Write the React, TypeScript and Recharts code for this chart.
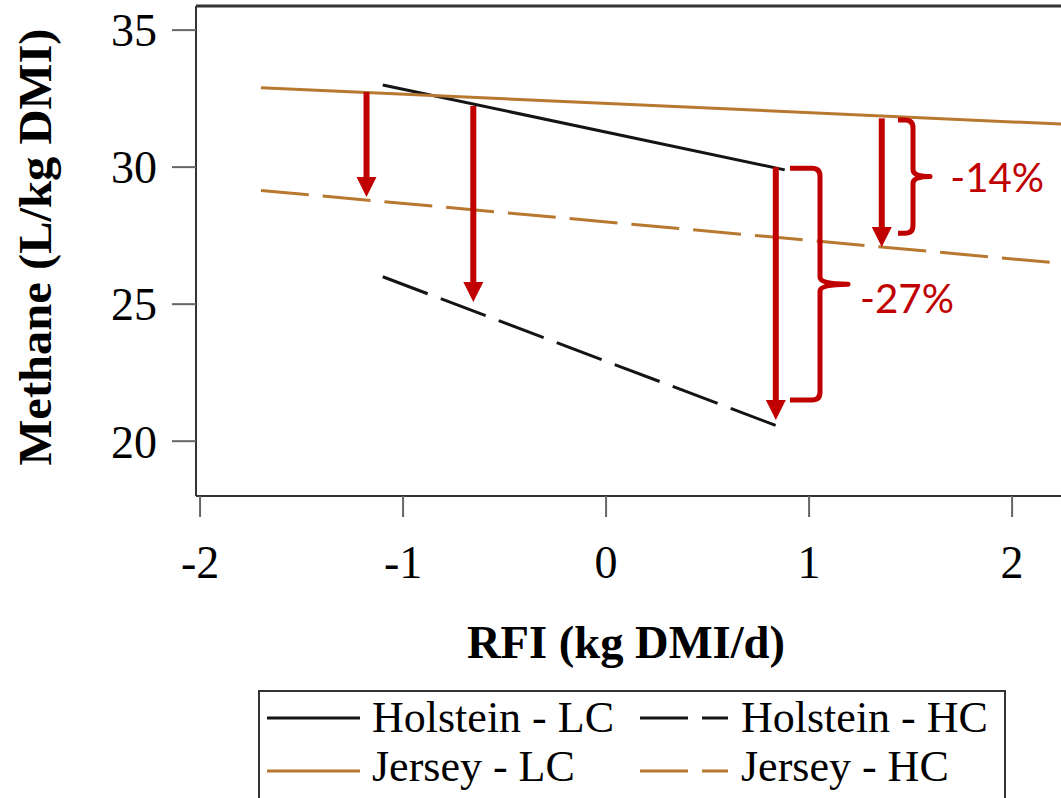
import React from 'react';
import { LineChart, Line, XAxis, YAxis, Legend, ReferenceLine, ReferenceDot } from 'recharts';

// ---- data ----
const xTicks = [-2, -1, 0, 1, 2];
const yTicks = [20, 25, 30, 35];
const seriesNames = ['Holstein - LC', 'Holstein - HC', 'Jersey - LC', 'Jersey - HC'];

const holsteinX = [-1.1, 0.88];
const holsteinLC = [33.0, 29.9];
const holsteinHC = [26.0, 20.45];
const jerseyX = [-1.7, 2.3];
const jerseyLC = [32.9, 31.55];
const jerseyHC = [29.15, 26.45];

// red annotation arrows (x position, from value, to value)
const arrowX = [-1.18, -0.654, 0.836, 1.358];
const arrowFrom = [32.74, 32.23, 30.0, 31.78];
const arrowTo = [28.91, 25.08, 20.77, 27.09];

// braces with percentage labels
const braceX = [1.438, 0.906];
const braceTop = [31.72, 29.96];
const braceBottom = [27.59, 21.5];
const braceLabels = ['-14%', '-27%'];
const labelX = [1.695, 1.251];
const labelY = [29.62, 25.22];

const xDomain = [-2.02, 2.3];
const yDomain = [18, 35.88];

// ---- styles ----
const BLACK = '#141414';
const BROWN = '#B8782F';
const RED = '#C00000';
const AXIS = '#333333';
const SERIF = '"Liberation Serif", "Times New Roman", serif';
const BRACE_W = [15, 30];
const BRACE_C = [17, 28];
const LABEL_LEN = [94, 94];

const toPts = (xs: number[], ys: number[]) => xs.map((x, i) => ({ x, y: ys[i] }));
const hLC = toPts(holsteinX, holsteinLC);
const hHC = toPts(holsteinX, holsteinHC);
const jLC = toPts(jerseyX, jerseyLC);
const jHC = toPts(jerseyX, jerseyHC);

const seriesStyles = [
  { color: BLACK, dash: undefined as string | undefined },
  { color: BLACK, dash: '48 14' },
  { color: BROWN, dash: undefined as string | undefined },
  { color: BROWN, dash: '48 14' },
];

const ArrowShape = (props: any) => {
  const { x1, y1, x2, y2 } = props;
  const head = 20;
  const hw = 10;
  return (
    <g>
      <line x1={x1} y1={y1} x2={x2} y2={y2 - head + 2} stroke={RED} strokeWidth={6} />
      <polygon points={`${x2 - hw},${y2 - head} ${x2 + hw},${y2 - head} ${x2},${y2}`} fill={RED} />
    </g>
  );
};

const makeBrace = (i: number) => (props: any) => {
  const { x1, y1, y2 } = props;
  const w = BRACE_W[i];
  const c = BRACE_C[i];
  const r = 8;
  const ym = (y1 + y2) / 2;
  const xv = x1 + w;
  const d = `M ${x1} ${y1} L ${xv - r} ${y1} Q ${xv} ${y1} ${xv} ${y1 + r} L ${xv} ${ym - 7} Q ${xv} ${ym} ${xv + c} ${ym} Q ${xv} ${ym} ${xv} ${ym + 7} L ${xv} ${y2 - r} Q ${xv} ${y2} ${xv - r} ${y2} L ${x1} ${y2}`;
  return <path d={d} fill="none" stroke={RED} strokeWidth={5} strokeLinejoin="round" />;
};

const makeLabel = (i: number) => (props: any) => {
  const { cx, cy } = props;
  return (
    <text x={cx} y={cy} dy="0.36em" fill={RED} fontSize={40} fontFamily="Lato, 'Noto Sans', sans-serif"
      textLength={LABEL_LEN[i]} lengthAdjust="spacingAndGlyphs">
      {braceLabels[i]}
    </text>
  );
};

const XLabel = (props: any) => {
  const vb = props.viewBox || { x: 196, y: 496 };
  return (
    <text x={vb.x + 430} y={vb.y + 162} textAnchor="middle" fontFamily={SERIF} fontWeight="bold" fontSize={46}
      fill="#000" textLength={318} lengthAdjust="spacingAndGlyphs">
      RFI (kg DMI/d)
    </text>
  );
};

const YLabel = (props: any) => {
  const vb = props.viewBox || { x: 0, y: 6, height: 490 };
  const cx = vb.x + 51;
  const cy = vb.y + vb.height / 2 - 4;
  return (
    <text x={cx} y={cy} transform={`rotate(-90, ${cx}, ${cy})`} textAnchor="middle" fontFamily={SERIF}
      fontWeight="bold" fontSize={47} fill="#000" textLength={437} lengthAdjust="spacingAndGlyphs">
      Methane (L/kg DMI)
    </text>
  );
};

const LegendBox = () => {
  const cols = [
    { lx1: 9, lx2: 102, tx: 114 },
    { lx1: 382, lx2: 470, tx: 483 },
  ];
  const rows = [
    { ly: 28, ty: 42 },
    { ly: 81, ty: 91 },
  ];
  const items = [0, 1, 2, 3].map((i) => ({ i, c: cols[i % 2], r: rows[Math.floor(i / 2)] }));
  return (
    <svg width={760} height={112} style={{ display: 'block', overflow: 'visible' }}>
      <rect x={1} y={1} width={746} height={150} fill="#fff" stroke={AXIS} strokeWidth={2} />
      {items.map(({ i, c, r }) => (
        <g key={i}>
          <line x1={c.lx1} y1={r.ly} x2={c.lx2} y2={r.ly} stroke={seriesStyles[i].color} strokeWidth={3}
            strokeDasharray={seriesStyles[i].dash} />
          <text x={c.tx} y={r.ty} fontFamily={SERIF} fontSize={44} fill="#000">{seriesNames[i]}</text>
        </g>
      ))}
    </svg>
  );
};

export default function App() {
  const seriesData = [hLC, hHC, jLC, jHC];
  return (
    <div style={{ position: 'absolute', left: 0, top: 0, width: 1061, height: 798, overflow: 'hidden', background: '#fff' }}>
      <LineChart width={1080} height={798} margin={{ top: 6, right: 7, bottom: 0, left: 0 }}>
        <XAxis dataKey="x" type="number" domain={xDomain} ticks={xTicks} interval={0} allowDataOverflow
          height={302} tickSize={21} tickMargin={28}
          axisLine={{ stroke: AXIS, strokeWidth: 2 }} tickLine={{ stroke: '#666', strokeWidth: 2 }}
          tick={{ fontSize: 46, fontFamily: SERIF, fill: '#000' }} label={{ content: XLabel } as any} />
        <YAxis type="number" domain={yDomain} ticks={yTicks} interval={0} allowDataOverflow width={196}
          tickSize={24} tickMargin={15}
          axisLine={{ stroke: AXIS, strokeWidth: 2 }} tickLine={{ stroke: '#666', strokeWidth: 2 }}
          tick={{ fontSize: 46, fontFamily: SERIF, fill: '#000' }} label={{ content: YLabel } as any} />
        <ReferenceLine y={yDomain[1]} stroke={AXIS} strokeWidth={3} ifOverflow="visible" />
        {seriesData.map((d, i) => (
          <Line key={seriesNames[i]} name={seriesNames[i]} data={d} dataKey="y" type="linear"
            stroke={seriesStyles[i].color} strokeWidth={3} strokeDasharray={seriesStyles[i].dash}
            dot={false} activeDot={false} isAnimationActive={false} />
        ))}
        {arrowX.map((x, i) => (
          <ReferenceLine key={`a${i}`} segment={[{ x, y: arrowFrom[i] }, { x, y: arrowTo[i] }]}
            shape={ArrowShape as any} ifOverflow="visible" />
        ))}
        {braceX.map((x, i) => (
          <ReferenceLine key={`b${i}`} segment={[{ x, y: braceTop[i] }, { x, y: braceBottom[i] }]}
            shape={makeBrace(i) as any} ifOverflow="visible" />
        ))}
        {labelX.map((x, i) => (
          <ReferenceDot key={`l${i}`} x={x} y={labelY[i]} r={0} shape={makeLabel(i) as any} ifOverflow="visible" />
        ))}
        <Legend content={() => <LegendBox />}
          wrapperStyle={{ position: 'absolute', left: 258, top: 690, width: 0, height: 0, overflow: 'visible' }} />
      </LineChart>
    </div>
  );
}
